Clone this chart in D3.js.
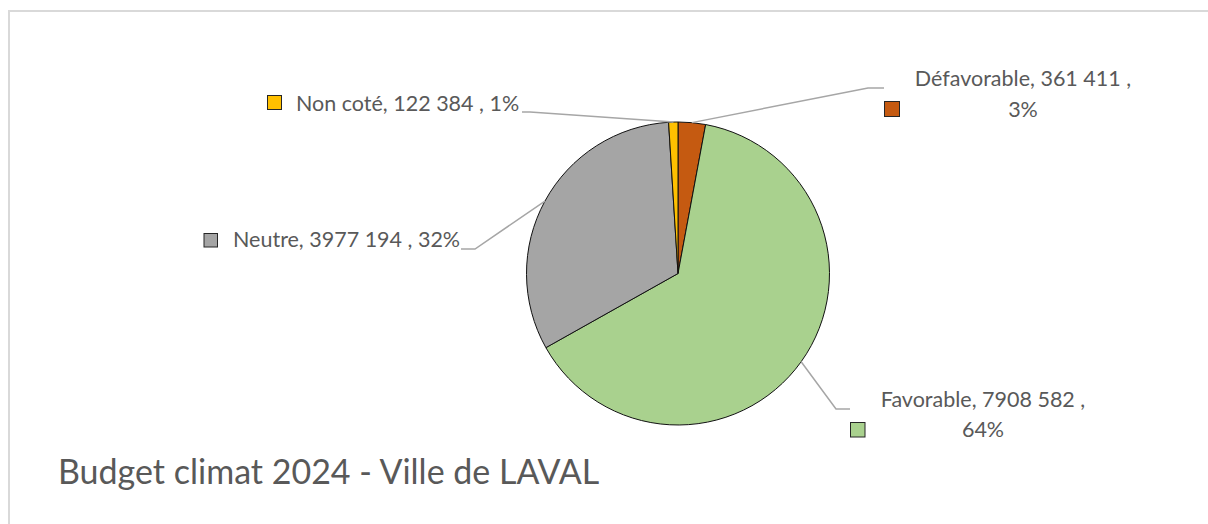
<!DOCTYPE html>
<html>
<head>
<meta charset="utf-8">
<script src="https://cdn.jsdelivr.net/npm/d3@7"></script>
<style>
  html, body { margin: 0; padding: 0; background: #ffffff; }
  svg { display: block; }
  text { font-family: Lato, "Open Sans", "DejaVu Sans", sans-serif; fill: #595959; }
</style>
</head>
<body>
<svg id="chart" width="1208" height="524"></svg>
<script>
// Budget climat 2024 split by climate rating
const categories = ["Défavorable", "Favorable", "Neutre", "Non coté"];
const amounts = [361411, 7908582, 3977194, 122384];
const colors = ["#C55A11", "#A9D18E", "#A5A5A5", "#FFC000"];
const title = "Budget climat 2024 - Ville de LAVAL";

// Label placement: leader elbow, text lines, legend key box
const labelLayout = {
  "Défavorable": { elbow: [868, 88], end: [884, 88], lines: [[1023, 86], [1023, 117]], anchor: "middle", key: [884, 101, 16] },
  "Favorable":   { elbow: [836, 409], end: [850, 409], lines: [[983, 407], [983, 437]], anchor: "middle", key: [850, 422, 15.5] },
  "Neutre":      { elbow: [475, 249], end: [461, 249], lines: [[233, 247]], anchor: "start", key: [203.5, 233, 14.5] },
  "Non coté":    { elbow: [530, 112], end: [522, 112], lines: [[296, 111]], anchor: "start", key: [267, 95, 15] }
};

const width = 1208, height = 524;
const cx = 678, cy = 273.5, radius = 151.5;

const svg = d3.select("#chart");

// chart area frame
svg.append("rect")
  .attr("x", 9).attr("y", 11)
  .attr("width", 1240).attr("height", 600)
  .attr("fill", "none")
  .attr("stroke", "#d9d9d9")
  .attr("stroke-width", 2);

const total = d3.sum(amounts);
const data = categories.map((c, i) => ({ name: c, value: amounts[i], color: colors[i] }));

const pie = d3.pie().value(d => d.value).sort(null).startAngle(0).endAngle(2 * Math.PI);
const arcs = pie(data);

const arc = d3.arc().innerRadius(0).outerRadius(radius);
const rim = d3.arc().innerRadius(radius).outerRadius(radius);

const g = svg.append("g").attr("transform", `translate(${cx},${cy})`);

g.selectAll("path.slice")
  .data(arcs)
  .join("path")
  .attr("class", "slice")
  .attr("d", arc)
  .attr("fill", d => d.data.color)
  .attr("stroke", "#111")
  .attr("stroke-width", 1)
  .attr("stroke-linejoin", "round");

const fmtAmount = v => {
  const hi = Math.floor(v / 1000), lo = v % 1000;
  return hi > 0 ? `${hi} ${String(lo).padStart(3, "0")}` : String(lo);
};
const pct = v => `${Math.round(v / total * 100)}%`;

// leader lines from the slice rim to the label
arcs.forEach(a => {
  const L = labelLayout[a.data.name];
  const [px, py] = rim.centroid(a);
  const pts = [[cx + px, cy + py], L.elbow, L.end];
  svg.append("path")
    .attr("d", d3.line()(pts))
    .attr("fill", "none")
    .attr("stroke", "#a6a6a6")
    .attr("stroke-width", 1.5);
});

// data labels with legend keys
arcs.forEach(a => {
  const L = labelLayout[a.data.name];
  const full = `${a.data.name}, ${fmtAmount(a.data.value)} , ${pct(a.data.value)}`;
  const parts = L.lines.length === 2
    ? [`${a.data.name}, ${fmtAmount(a.data.value)} ,`, pct(a.data.value)]
    : [full];
  parts.forEach((t, i) => {
    svg.append("text")
      .attr("x", L.lines[i][0])
      .attr("y", L.lines[i][1])
      .attr("text-anchor", L.anchor)
      .style("font-size", "21.5px")
      .text(t);
  });
  const [kx, ky, ks] = L.key;
  svg.append("rect")
    .attr("x", kx + 0.5).attr("y", ky + 0.5)
    .attr("width", ks - 1).attr("height", ks - 1)
    .attr("fill", a.data.color)
    .attr("stroke", "#262626")
    .attr("stroke-width", 1);
});

svg.append("text")
  .attr("x", 58)
  .attr("y", 484)
  .style("font-size", "34px")
  .text(title);
</script>
</body>
</html>
